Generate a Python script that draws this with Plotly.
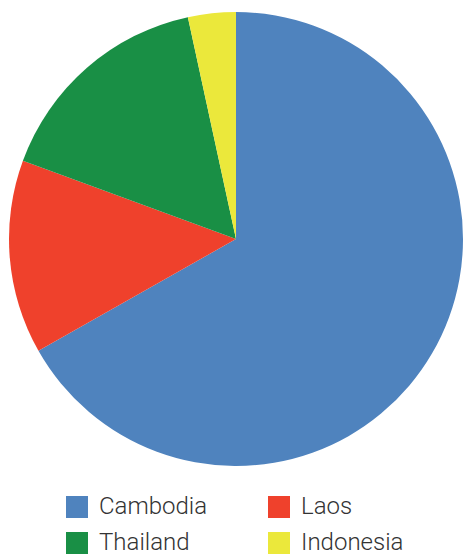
import plotly.graph_objects as go

# Share by country (percent)
countries = ["Cambodia", "Laos", "Thailand", "Indonesia"]
shares = [66.8, 13.8, 16.0, 3.4]
colors = ["#4F83BE", "#EF412C", "#198F45", "#EBE83B"]

W, H = 463, 557

fig = go.Figure(
    go.Pie(
        labels=countries,
        values=shares,
        marker=dict(colors=colors, line=dict(width=0)),
        sort=False,
        direction="clockwise",
        rotation=0,
        textinfo="none",
        hoverinfo="skip",
        showlegend=False,
        domain=dict(x=[9 / W, 1], y=[1 - 467 / H, 1 - 11 / H]),
    )
)

# Two-column legend below the pie
col_x = [66, 268]
row_y = [496, 532]
box = 22
shapes, annotations = [], []
for i, (name, col) in enumerate(zip(countries, colors)):
    cx = col_x[i % 2]
    ry = row_y[i // 2]
    shapes.append(
        dict(
            type="rect", xref="paper", yref="paper",
            x0=cx / W, x1=(cx + box) / W,
            y0=1 - (ry + box) / H, y1=1 - ry / H,
            fillcolor=col, line=dict(width=0),
        )
    )
    annotations.append(
        dict(
            text=name, xref="paper", yref="paper",
            x=(cx + 31) / W, y=1 - (ry + box / 2 - 1) / H,
            xanchor="left", yanchor="middle", showarrow=False,
            font=dict(family="Roboto", size=24, color="#333333", weight=300),
        )
    )

fig.update_layout(
    width=W, height=H,
    margin=dict(l=0, r=0, t=0, b=0),
    paper_bgcolor="white",
    plot_bgcolor="white",
    shapes=shapes,
    annotations=annotations,
)

fig.write_html("out.html")
